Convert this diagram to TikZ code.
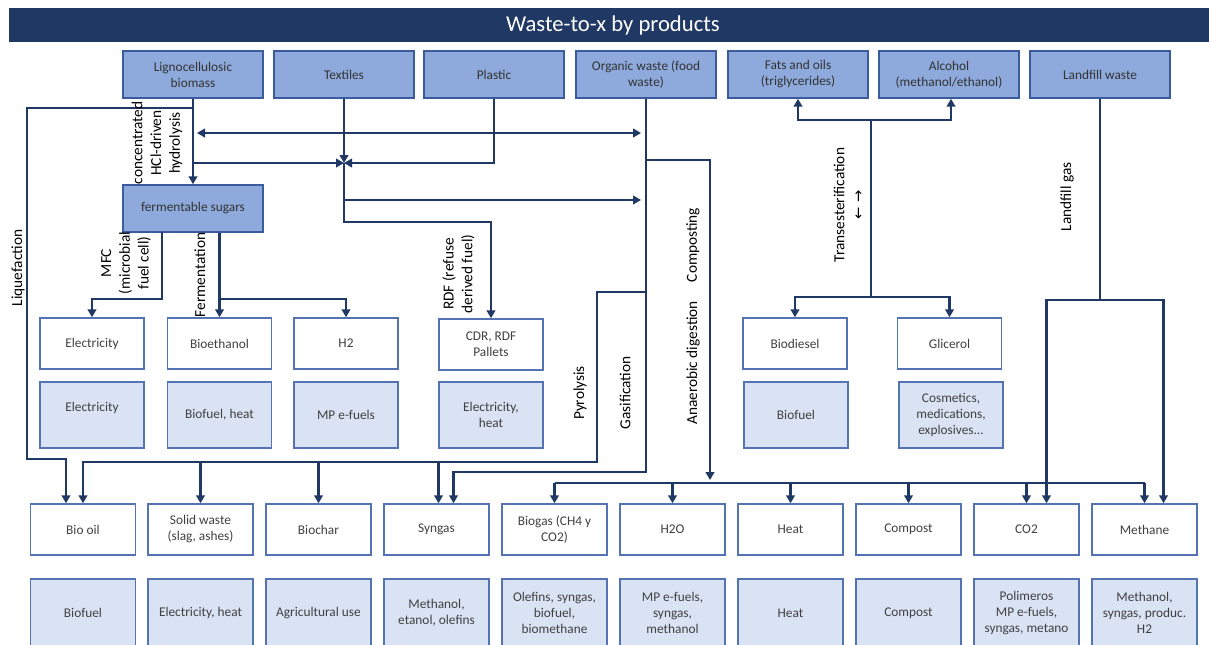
\documentclass[tikz,border=0pt]{standalone}
\usepackage{fontspec}
\setmainfont{Carlito}
\newfontfamily\arrowfont{DejaVu Sans}
\usetikzlibrary{arrows.meta,calc}
\definecolor{navy}{RGB}{32,56,100}
\definecolor{topfill}{RGB}{142,169,219}
\definecolor{topborder}{RGB}{58,92,158}
\definecolor{boxborder}{RGB}{84,115,180}
\definecolor{lightfill}{RGB}{218,227,243}
\definecolor{textgray}{RGB}{64,64,64}
\begin{document}
\begin{tikzpicture}[x=0.75pt,y=-0.75pt,
  basebox/.style={line width=1.1pt, inner sep=1pt, align=center,
    font=\fontsize{10}{12}\selectfont, text=textgray},
  topbox/.style={basebox, draw=topborder, fill=topfill, minimum width=105pt, minimum height=35.25pt, text=black!80},
  wbox/.style={basebox, draw=boxborder, fill=white, minimum width=78pt, minimum height=38.25pt},
  lbox/.style={basebox, draw=boxborder, fill=lightfill, minimum width=78pt, minimum height=49.5pt},
  bwbox/.style={basebox, draw=boxborder, fill=white, minimum width=78.75pt, minimum height=38.25pt},
  blbox/.style={basebox, draw=boxborder, fill=lightfill, minimum width=78.75pt, minimum height=51pt},
  conn/.style={draw=navy, line width=1.8pt},
  arr/.style={conn, -{Triangle[length=6pt,width=6.5pt]}},
  darr/.style={conn, {Triangle[length=6pt,width=6.5pt]}-{Triangle[length=6pt,width=6.5pt]}},
  lab/.style={rotate=90, align=center, inner sep=0pt, text=black, font=\fontsize{11.5}{14}\selectfont}
]
\useasboundingbox (0,0) rectangle (1209,644);
\clip (0,0) rectangle (1209,644);

% title bar
\fill[navy] (9,8) rectangle (1209,42);
\node[text=white, font=\fontsize{17}{20}\selectfont] (title) at (613,25) {Waste-to-x by products};

% top row
\node[topbox] (lig) at (193,74.5) {Lignocellulosic\\biomass};
\node[topbox] (tex) at (344,74.5) {Textiles};
\node[topbox] (pla) at (494,74.5) {Plastic};
\node[topbox] (org) at (646,74.5) {Organic waste (food\\waste)};
\node[topbox] (fat) at (798,74.5) {Fats and oils\\(triglycerides)};
\node[topbox] (alc) at (949,74.5) {Alcohol\\(methanol/ethanol)};
\node[topbox] (lan) at (1100,74.5) {Landfill waste};
\node[topbox] (sug) at (193,208.5) {fermentable sugars};

% middle rows
\node[wbox] (el) at (92,343.5) {Electricity};
\node[wbox] (beth) at (219.5,343.5) {Bioethanol};
\node[wbox] (h2) at (346,343.5) {H2};
\node[wbox] (cdr) at (491,344.5) {CDR, RDF\\Pallets};
\node[wbox] (bdie) at (795,343.5) {Biodiesel};
\node[wbox] (gli) at (949.5,343.5) {Glicerol};

\node[lbox] (el2) at (92,415) {Electricity\\~};
\node[lbox] (bfh) at (219.5,415) {Biofuel, heat};
\node[lbox] (mpe) at (346,415) {MP e-fuels};
\node[lbox] (eh) at (491,415) {Electricity,\\heat};
\node[lbox] (bf) at (796,415) {Biofuel};
\node[lbox] (cos) at (951,415) {Cosmetics,\\medications,\\explosives...};

% bottom rows
\node[bwbox] (bio) at (83,529.5) {Bio oil};
\node[bwbox] (sol) at (200.5,529.5) {Solid waste\\(slag, ashes)};
\node[bwbox] (bch) at (318.5,529.5) {Biochar};
\node[bwbox] (syn) at (436.5,529.5) {Syngas};
\node[bwbox] (bgs) at (554.5,529.5) {Biogas (CH4 y\\CO2)};
\node[bwbox] (hho) at (672.5,529.5) {H2O};
\node[bwbox] (hea) at (790.5,529.5) {Heat};
\node[bwbox] (cmp) at (908.5,529.5) {Compost};
\node[bwbox] (co2) at (1026.5,529.5) {CO2};
\node[bwbox] (met) at (1144.5,529.5) {Methane};

\node[blbox] (u1) at (83,613) {Biofuel};
\node[blbox] (u2) at (200.5,613) {Electricity, heat};
\node[blbox] (u3) at (318.5,613) {Agricultural use};
\node[blbox] (u4) at (436.5,613) {Methanol,\\etanol, olefins};
\node[blbox] (u5) at (554.5,613) {Olefins, syngas,\\biofuel,\\biomethane};
\node[blbox] (u6) at (672.5,613) {MP e-fuels,\\syngas,\\methanol};
\node[blbox] (u7) at (790.5,613) {Heat};
\node[blbox] (u8) at (908.5,613) {Compost};
\node[blbox] (u9) at (1026.5,613) {Polimeros\\MP e-fuels,\\syngas, metano};
\node[blbox] (u10) at (1144.5,613) {Methanol,\\syngas, produc.\\H2};

% junction coordinates
\coordinate (liqA) at (193,108);
\coordinate (liqB) at (27,459);
\coordinate (dA) at (197,133);
\coordinate (dB) at (641,133);
\coordinate (hL) at (193,163);
\coordinate (J) at (344,163);
\coordinate (rdfA) at (344,222);
\coordinate (jB) at (344,200);
\coordinate (jBend) at (641,200);
\coordinate (orgB) at (646,472);
\coordinate (pyA) at (646,292);
\coordinate (pyB) at (597,462);
\coordinate (coA) at (646,160);
\coordinate (coB) at (710,480);
\coordinate (dist) at (710,483);
\coordinate (lfA) at (1100,300);
\coordinate (tT) at (871,120);
\coordinate (tB) at (871,297);
\coordinate (mfcA) at (162,232);
\coordinate (mfcB) at (162,299);
\coordinate (feA) at (219.5,299);

% lignocellulosic
\draw[arr] (lig.south) -- (sug.north);
\draw[arr] (liqA) -| (liqB) -| ($(bio.north)+(-17,0)$);
\draw[darr] (dA) -- (dB);
\draw[arr] (hL) -- (J);
\draw[arr] (tex.south) -- (J);
\draw[arr] (pla.south) |- (J);
\draw[arr] (J) -- (rdfA) -| (cdr.north);
\draw[arr] (jB) -- (jBend);

% organic waste
\draw[arr] (org.south) -- (orgB) -| ($(syn.north)+(17,0)$);
\draw[arr] (pyA) -| (pyB) -| (bio.north);
\draw[arr] (sol.north |- pyB) -- (sol.north);
\draw[arr] (bch.north |- pyB) -- (bch.north);
\draw[arr] ($(syn.north |- pyB)+(2,0)$) -- ($(syn.north)+(2,0)$);
\draw[arr] (coA) -| (coB);
\draw[conn] (bgs.north |- dist) -- (met.north |- dist);
\foreach \n in {bgs,hho,hea,cmp,co2,met}{
  \draw[arr] (\n.north |- dist) -- (\n.north);
}

% landfill
\draw[conn] (lan.south) -- (lfA);
\draw[arr] (lfA) -| ($(co2.north)+(20,0)$);
\draw[arr] (lfA) -| ($(met.north)+(19,0)$);

% transesterification
\draw[conn] (tT) -- (tB);
\draw[arr] (tT) -| (fat.south);
\draw[arr] (tT) -| ($(alc.south)+(2,0)$);
\draw[arr] (tB) -| (bdie.north);
\draw[arr] (tB) -| (gli.north);

% sugars
\draw[arr] (mfcA) -- (mfcB) -| (el.north);
\draw[arr] (beth.north |- sug.south) -- (beth.north);
\draw[arr] (feA) -| (h2.north);

% labels
\node[lab] (lhyd) at (157,143) {concentrated\\HCl-driven\\hydrolysis};
\node[lab] (lliq) at (18,268) {Liquefaction};
\node[lab] (lmfc) at (126,263) {MFC\\(microbial\\fuel cell)};
\node[lab] (lfer) at (200,275) {Fermentation};
\node[lab] (lrdf) at (458.5,274) {RDF (refuse\\derived fuel)};
\node[lab] (lpyr) at (580,393) {Pyrolysis};
\node[lab] (lgas) at (625,393) {Gasification};
\node[lab] (lcom) at (693,245) {Composting};
\node[lab] (lana) at (693,363) {Anaerobic digestion};
\node[lab] (ltra) at (848.5,205) {Transesterification\\{\arrowfont\fontsize{11}{13}\selectfont ← →}};
\node[lab] (llfg) at (1067,197) {Landfill gas};
\end{tikzpicture}
\end{document}
